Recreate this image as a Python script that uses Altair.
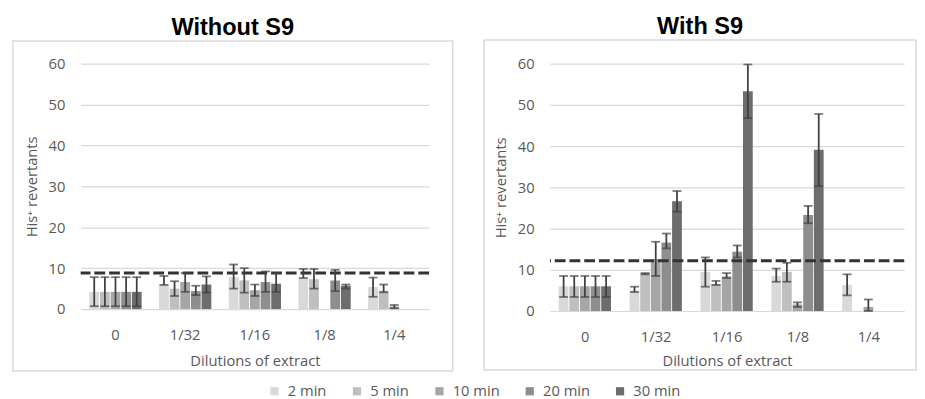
import altair as alt
import pandas as pd

times = ["2 min", "5 min", "10 min", "20 min", "30 min"]
dilutions = ["0", "1/32", "1/16", "1/8", "1/4"]
colors = ["#d9d9d9", "#bfbfbf", "#a6a6a6", "#8e8e8e", "#6d6d6d"]

# Without S9: rows = dilution, cols = time
wo_mean = [[4.2, 4.2, 4.2, 4.2, 4.2],
           [6.0, 5.0, 6.6, 4.4, 6.0],
           [7.8, 7.0, 4.6, 6.6, 6.2],
           [7.6, 7.3, None, 7.0, 5.7],
           [5.4, 4.5, 0.6, None, None]]
wo_lo = [[0.7, 0.7, 0.7, 0.7, 0.7],
         [5.9, 3.2, 4.2, 3.4, 4.0],
         [5.0, 4.0, 3.2, 4.2, 4.2],
         [7.6, 5.0, None, 4.4, 5.0],
         [3.0, 4.1, 0.2, None, None]]
wo_hi = [[7.8, 7.8, 7.8, 7.8, 7.8],
         [8.1, 6.8, 8.8, 5.7, 8.0],
         [10.9, 10.0, 6.0, 9.2, 8.8],
         [9.8, 9.8, None, 9.6, 6.0],
         [7.7, 6.0, 1.0, None, None]]
wo_control = 8.8

# With S9
w_mean = [[6.0, 6.0, 6.0, 6.0, 6.0],
          [5.0, 9.1, 12.6, 16.6, 26.6],
          [9.5, 6.6, 8.4, 14.4, 53.3],
          [8.5, 9.5, 1.6, 23.3, 39.1],
          [6.3, None, 1.0, None, None]]
w_lo = [[3.4, 3.4, 3.4, 3.4, 3.4],
        [4.6, 8.9, 8.5, 15.2, 24.1],
        [5.9, 6.3, 8.0, 13.0, 46.8],
        [7.1, 7.1, 1.0, 21.3, 30.3],
        [3.8, None, 0.0, None, None]]
w_hi = [[8.5, 8.5, 8.5, 8.5, 8.5],
        [5.9, 9.2, 16.8, 18.8, 29.1],
        [13.0, 7.3, 9.2, 15.9, 59.8],
        [10.3, 11.7, 2.1, 25.5, 47.8],
        [8.9, None, 2.8, None, None]]
w_control = 12.2

FONT = "Open Sans"
GRAY = "#595959"
ERR = "#404040"


def table(mean, lo, hi):
    rows = []
    for i, d in enumerate(dilutions):
        for j, t in enumerate(times):
            if mean[i][j] is None:
                continue
            rows.append({"dilution": d, "time": t, "mean": mean[i][j],
                         "lo": lo[i][j], "hi": hi[i][j]})
    return pd.DataFrame(rows)


def panel(mean, lo, hi, control, title, width, height, frame):
    df = table(mean, lo, hi)
    x = alt.X("dilution:N", sort=dilutions, title="Dilutions of extract",
              scale=alt.Scale(paddingInner=0.25, paddingOuter=0.125),
              axis=alt.Axis(labelAngle=0, ticks=False, tickSize=0, domain=False,
                            labelPadding=frame["lp"], titlePadding=frame["tp"]))
    xo = alt.XOffset("time:N", sort=times, scale=alt.Scale(paddingInner=0.08))
    yscale = alt.Scale(domain=[0, 60], nice=False)
    base = alt.Chart(df).encode(x=x, xOffset=xo)
    bars = base.mark_bar().encode(
        y=alt.Y("mean:Q", scale=yscale, title="His⁺ revertants",
                axis=alt.Axis(values=[0, 10, 20, 30, 40, 50, 60], ticks=False,
                              tickSize=0, domain=False, labelPadding=16,
                              titlePadding=9)),
        color=alt.Color("time:N", sort=times,
                        scale=alt.Scale(domain=times, range=colors),
                        legend=alt.Legend(title=None, orient="none",
                                          direction="horizontal",
                                          legendX=190, legendY=326,
                                          symbolType="square", symbolSize=70,
                                          symbolStrokeWidth=0,
                                          labelFontSize=15, labelFont=FONT,
                                          labelColor=GRAY, columnPadding=23,
                                          labelOffset=6)),
    )
    edf = df.dropna(subset=["lo"])
    ebase = alt.Chart(edf).encode(x=x, xOffset=xo)
    rules = ebase.mark_rule(color=ERR, strokeWidth=1.8).encode(
        y=alt.Y("lo:Q", scale=yscale), y2="hi:Q")
    cap_hi = ebase.mark_tick(color=ERR, thickness=1.8, size=9).encode(
        y=alt.Y("hi:Q", scale=yscale))
    cap_lo = ebase.mark_tick(color=ERR, thickness=1.8, size=9).encode(
        y=alt.Y("lo:Q", scale=yscale))
    dash = alt.Chart(pd.DataFrame({"v": [control]})).mark_rule(
        color="#333333", strokeWidth=3, strokeDash=[11, 4]).encode(
        y=alt.Y("v:Q", scale=yscale))
    box = alt.Chart(pd.DataFrame({"a": [0]})).mark_rect(
        fill="transparent", fillOpacity=0, stroke="#d9d9d9", strokeWidth=1.5).encode(
        x=alt.value(frame["l"]), x2=alt.value(width + frame["r"]),
        y=alt.value(frame["t"]), y2=alt.value(height + frame["b"]))
    return alt.layer(box, bars, dash, rules, cap_hi, cap_lo).properties(
        width=width, height=height,
        title=alt.TitleParams(title, fontSize=24, fontWeight="bold",
                              font="Liberation Sans", color="black",
                              anchor="middle", frame="bounds", offset=0))


left = panel(wo_mean, wo_lo, wo_hi, wo_control, "Without S9", 355, 250,
             {"l": -69, "r": 24, "t": -23, "b": 63, "lp": 19, "tp": 12})
right = panel(w_mean, w_lo, w_hi, w_control, "With S9", 361, 252,
              {"l": -67, "r": 12, "t": -24, "b": 60, "lp": 19, "tp": 9})

chart = alt.hconcat(left, right, spacing=30).resolve_scale(
    x="independent", color="shared").resolve_legend(color="shared").properties(
    padding={"left": 4, "top": 4, "right": 0, "bottom": 0}
).configure_view(stroke=None).configure_axis(
    labelFont=FONT, labelFontSize=15, labelColor=GRAY,
    titleFont=FONT, titleFontSize=15, titleColor=GRAY, titleFontWeight="normal",
    gridColor="#d9d9d9", gridWidth=1.2)

chart.save("out.html", embed_options={"renderer": "svg", "actions": False})
